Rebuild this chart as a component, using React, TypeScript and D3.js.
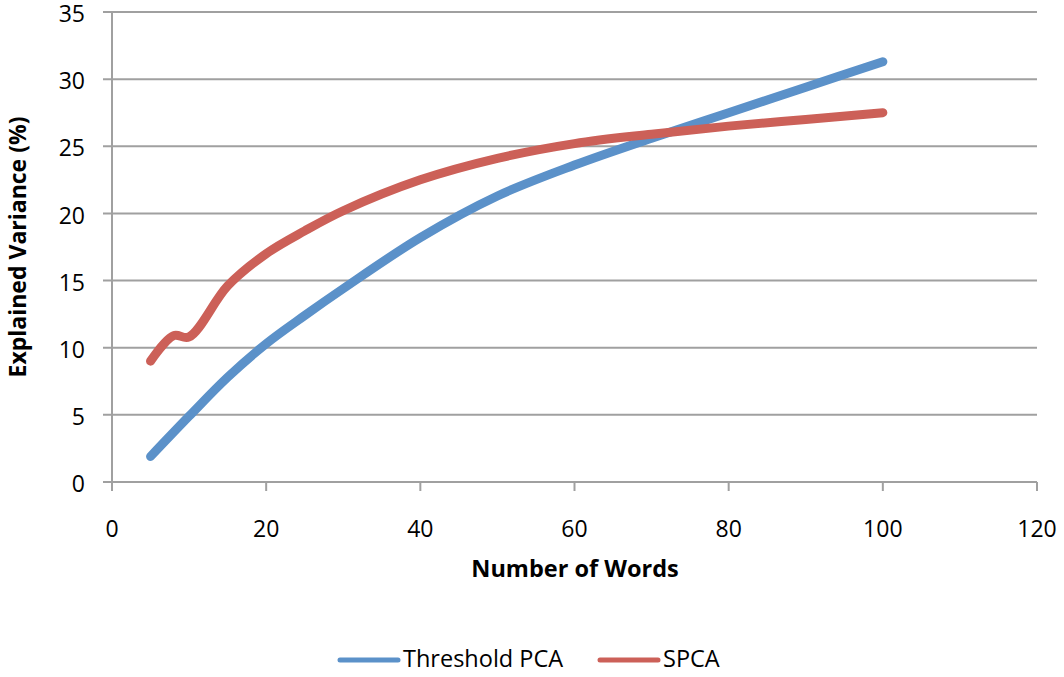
import React from "react";
import * as d3 from "d3";

const W = 1064;
const H = 677;

const xTicks = [0, 20, 40, 60, 80, 100, 120];
const yTicks = [0, 5, 10, 15, 20, 25, 30, 35];

const thresholdX = [5, 10, 15, 20, 25, 30, 40, 50, 60, 70, 80, 90, 100];
const thresholdY = [1.9, 4.9, 7.8, 10.3, 12.4, 14.4, 18.2, 21.3, 23.6, 25.6, 27.5, 29.4, 31.3];

const spcaX = [5, 8, 10, 15, 20, 25, 30, 40, 50, 60, 70, 80, 90, 100];
const spcaY = [9.0, 10.9, 10.8, 14.6, 17.0, 18.7, 20.2, 22.5, 24.1, 25.2, 25.9, 26.5, 27.0, 27.5];

const seriesNames = ["Threshold PCA", "SPCA"];
const seriesColors = ["#5b91c9", "#cc6058"];

const FONT = "'Open Sans', 'Noto Sans', sans-serif";

export default function App() {
  const x = d3.scaleLinear().domain([0, 120]).range([112, 1037]);
  const y = d3.scaleLinear().domain([0, 35]).range([482, 12]);
  const line = d3
    .line<[number, number]>()
    .x((d) => x(d[0]))
    .y((d) => y(d[1]))
    .curve(d3.curveCatmullRom.alpha(0.5));

  const series = [
    thresholdX.map((v, i) => [v, thresholdY[i]] as [number, number]),
    spcaX.map((v, i) => [v, spcaY[i]] as [number, number]),
  ];

  const grid = "#a0a0a0";
  const legendStarts = [340, 600];

  return (
    <svg
      width={W}
      height={H}
      style={{ position: "absolute", left: 0, top: 0, background: "#fff" }}
      fontFamily={FONT}
    >
      {yTicks.map((t) => (
        <g key={"y" + t}>
          <line x1={103} x2={1037} y1={y(t)} y2={y(t)} stroke={grid} strokeWidth={2} />
          <text x={85} y={y(t) + 4} textAnchor="end" dominantBaseline="middle" fontSize={23} fill="#000">
            {t}
          </text>
        </g>
      ))}
      <line x1={x(0)} x2={x(0)} y1={y(35)} y2={491} stroke={grid} strokeWidth={2} />
      {xTicks.map((t) => (
        <g key={"x" + t}>
          <line x1={x(t)} x2={x(t)} y1={y(0)} y2={491} stroke={grid} strokeWidth={2} />
          <text x={x(t)} y={531} textAnchor="middle" dominantBaseline="middle" fontSize={23} fill="#000">
            {t}
          </text>
        </g>
      ))}
      {series.map((s, i) => (
        <path
          key={"s" + i}
          d={line(s) || ""}
          fill="none"
          stroke={seriesColors[i]}
          strokeWidth={9}
          strokeLinecap="round"
          strokeLinejoin="round"
        />
      ))}
      <text x={575} y={571} textAnchor="middle" dominantBaseline="middle" fontSize={23.5} fontWeight="bold" fill="#000">
        Number of Words
      </text>
      <text
        transform={`translate(20,247) rotate(-90)`}
        textAnchor="middle"
        dominantBaseline="middle"
        fontSize={23}
        fontWeight="bold"
        fill="#000"
      >
        Explained Variance (%)
      </text>
      {seriesNames.map((n, i) => (
        <g key={"l" + i}>
          <line
            x1={legendStarts[i]}
            x2={legendStarts[i] + 58}
            y1={660}
            y2={660}
            stroke={seriesColors[i]}
            strokeWidth={5}
            strokeLinecap="round"
          />
          <text x={legendStarts[i] + 63} y={661} dominantBaseline="middle" fontSize={23.5} fill="#000">
            {n}
          </text>
        </g>
      ))}
    </svg>
  );
}
